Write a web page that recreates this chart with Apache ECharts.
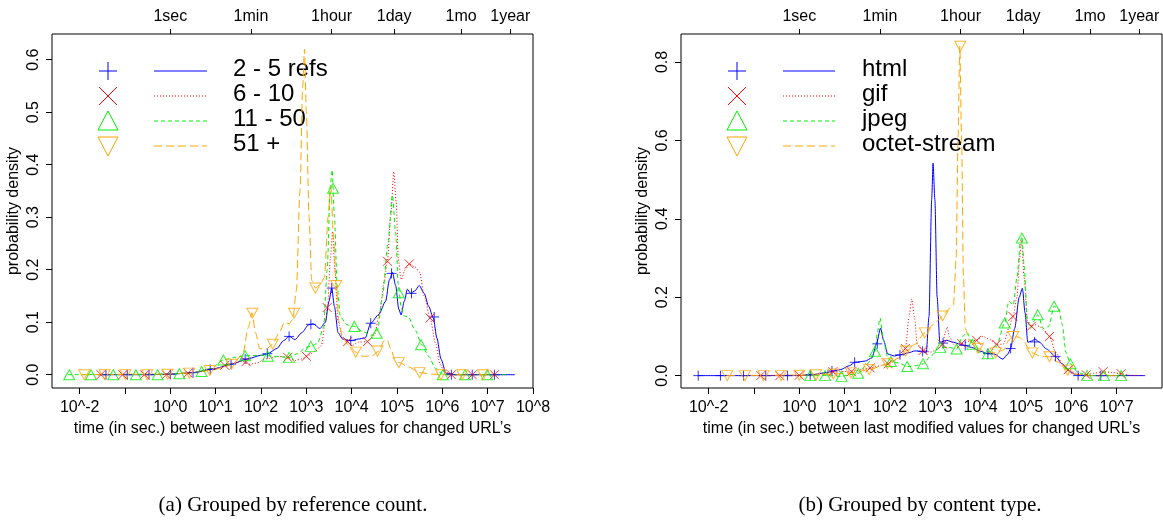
<!DOCTYPE html>
<html>
<head>
<meta charset="utf-8">
<script src="https://cdn.jsdelivr.net/npm/echarts@6/dist/echarts.min.js"></script>
<style>
  html, body { margin: 0; padding: 0; background: #fff; }
  #chart { width: 1163px; height: 520px; }
</style>
</head>
<body>
<div id="chart"></div>
<script>
// x values are log10(seconds), y values are probability density

// --- (a) grouped by reference count ---
const refs2to5Line = [[-1.6,0],[-0.5,0],[0,0.001],[0.5,0.004],[1.0,0.012],[1.34,0.02],[1.7,0.03],[2.0,0.037],[2.15,0.04],[2.35,0.05],[2.5,0.065],[2.62,0.073],[2.75,0.067],[2.9,0.08],[3.05,0.095],[3.15,0.097],[3.3,0.088],[3.42,0.1],[3.5,0.14],[3.56,0.165],[3.62,0.13],[3.7,0.08],[3.8,0.068],[3.98,0.065],[4.15,0.068],[4.3,0.07],[4.42,0.098],[4.6,0.115],[4.75,0.14],[4.83,0.18],[4.9,0.195],[4.97,0.17],[5.04,0.125],[5.09,0.114],[5.16,0.14],[5.23,0.163],[5.3,0.155],[5.4,0.16],[5.49,0.17],[5.6,0.155],[5.7,0.13],[5.8,0.108],[5.88,0.07],[5.97,0.03],[6.08,0.003],[6.3,0],[7.6,0]];
const refs2to5Marks = [[-1.42,0],[-0.95,0],[-0.47,0],[0.0,0.001],[0.5,0.004],[0.88,0.01],[1.34,0.02],[1.65,0.03],[2.14,0.04],[2.62,0.073],[3.1,0.096],[3.56,0.165],[3.98,0.065],[4.42,0.098],[4.88,0.193],[5.32,0.155],[5.82,0.11],[6.2,0],[6.66,0],[7.15,0]];

const refs6to10Line = [[-1.6,0],[0,0.001],[0.5,0.004],[1.0,0.012],[1.4,0.022],[1.6,0.025],[1.75,0.02],[1.9,0.022],[2.1,0.03],[2.4,0.035],[2.6,0.032],[2.75,0.027],[2.9,0.03],[3.05,0.037],[3.2,0.045],[3.33,0.055],[3.42,0.1],[3.47,0.129],[3.53,0.22],[3.58,0.273],[3.63,0.2],[3.7,0.1],[3.8,0.07],[3.91,0.063],[4.0,0.055],[4.15,0.062],[4.35,0.063],[4.5,0.075],[4.62,0.12],[4.72,0.18],[4.79,0.216],[4.86,0.3],[4.93,0.387],[4.98,0.33],[5.03,0.22],[5.09,0.181],[5.18,0.2],[5.27,0.211],[5.4,0.205],[5.5,0.195],[5.6,0.15],[5.73,0.108],[5.85,0.06],[5.95,0.02],[6.05,0.004],[6.3,0],[7.3,0]];
const refs6to10Marks = [[-1.53,0],[-1.05,0],[-0.57,0],[-0.09,0],[0.39,0.003],[1.2,0.018],[1.67,0.025],[2.59,0.033],[3.0,0.035],[3.46,0.128],[3.91,0.063],[4.35,0.063],[4.79,0.216],[5.27,0.211],[5.73,0.108],[6.2,0],[6.66,0],[7.15,0]];

const refs11to50Line = [[-2.26,0],[0,0.001],[0.5,0.004],[0.9,0.012],[1.17,0.028],[1.4,0.033],[1.65,0.036],[2.0,0.037],[2.3,0.035],[2.62,0.033],[2.8,0.04],[3.0,0.052],[3.1,0.054],[3.25,0.06],[3.38,0.09],[3.46,0.2],[3.53,0.36],[3.57,0.39],[3.62,0.3],[3.68,0.17],[3.75,0.11],[3.9,0.095],[4.06,0.092],[4.25,0.082],[4.45,0.075],[4.57,0.085],[4.68,0.15],[4.8,0.25],[4.9,0.342],[4.97,0.27],[5.03,0.17],[5.09,0.13],[5.15,0.112],[5.25,0.11],[5.4,0.085],[5.55,0.057],[5.7,0.035],[5.85,0.012],[6.0,0.001],[6.2,0],[7.4,0]];
const refs11to50Marks = [[-2.23,0],[-1.75,0],[-1.26,0],[-0.76,0],[-0.28,0],[0.2,0.002],[0.69,0.006],[1.17,0.028],[1.65,0.036],[2.15,0.035],[2.62,0.033],[3.1,0.054],[3.59,0.355],[4.06,0.092],[4.55,0.079],[5.04,0.156],[5.53,0.057],[6.01,0],[6.5,0],[6.99,0]];

const refs51Line = [[-1.95,0],[0,0.001],[0.5,0.004],[0.9,0.008],[1.2,0.015],[1.4,0.022],[1.6,0.04],[1.72,0.09],[1.8,0.118],[1.88,0.08],[1.97,0.05],[2.1,0.048],[2.26,0.058],[2.4,0.08],[2.52,0.1],[2.62,0.097],[2.7,0.105],[2.78,0.16],[2.86,0.35],[2.92,0.55],[2.96,0.62],[3.0,0.5],[3.06,0.3],[3.12,0.18],[3.2,0.165],[3.3,0.172],[3.4,0.185],[3.48,0.3],[3.54,0.36],[3.6,0.26],[3.66,0.17],[3.72,0.1],[3.8,0.07],[3.95,0.055],[4.09,0.043],[4.25,0.035],[4.45,0.036],[4.6,0.045],[4.72,0.065],[4.78,0.067],[4.86,0.05],[4.95,0.03],[5.05,0.023],[5.25,0.015],[5.5,0.004],[5.8,0.001],[6.1,0],[7.2,0]];
const refs51Marks = [[-1.9,0],[-1.45,0],[-0.99,0],[-0.51,0],[-0.06,0.001],[0.42,0.003],[0.87,0.008],[1.35,0.02],[1.81,0.117],[2.26,0.058],[2.73,0.117],[3.2,0.165],[3.66,0.17],[4.09,0.043],[4.57,0.045],[5.04,0.023],[5.5,0.004],[5.97,0],[6.44,0],[6.9,0]];

// --- (b) grouped by content type ---
const htmlLine = [[-2.23,0],[0,0],[0.3,0.002],[0.6,0.008],[0.9,0.015],[1.1,0.025],[1.23,0.034],[1.45,0.037],[1.6,0.045],[1.7,0.08],[1.79,0.121],[1.86,0.09],[1.95,0.055],[2.1,0.05],[2.22,0.053],[2.4,0.058],[2.55,0.063],[2.7,0.062],[2.8,0.058],[2.86,0.15],[2.92,0.45],[2.95,0.542],[2.99,0.45],[3.04,0.2],[3.1,0.085],[3.25,0.09],[3.4,0.085],[3.55,0.08],[3.65,0.077],[3.8,0.072],[4.0,0.062],[4.16,0.056],[4.3,0.055],[4.49,0.042],[4.6,0.055],[4.66,0.069],[4.75,0.12],[4.85,0.2],[4.92,0.223],[4.98,0.16],[5.04,0.085],[5.12,0.088],[5.2,0.093],[5.3,0.085],[5.45,0.068],[5.65,0.049],[5.8,0.03],[5.95,0.012],[6.1,0.002],[6.3,0],[7.63,0]];
const htmlMarks = [[-2.23,0],[-1.74,0],[-1.23,0],[-0.74,0],[-0.26,0],[0.24,0.002],[0.72,0.012],[1.22,0.034],[1.72,0.081],[2.22,0.053],[2.72,0.062],[3.17,0.083],[3.66,0.077],[4.16,0.056],[4.66,0.069],[5.19,0.086],[5.65,0.049],[6.15,0],[6.65,0]];

const gifLine = [[-0.9,0],[0,0.001],[0.5,0.005],[0.9,0.01],[1.2,0.012],[1.5,0.018],[1.8,0.025],[2.0,0.032],[2.2,0.045],[2.34,0.069],[2.42,0.15],[2.48,0.196],[2.54,0.15],[2.6,0.08],[2.73,0.064],[2.9,0.06],[3.05,0.068],[3.16,0.08],[3.22,0.11],[3.26,0.124],[3.31,0.1],[3.4,0.08],[3.58,0.082],[3.75,0.088],[3.91,0.09],[4.05,0.1],[4.2,0.092],[4.35,0.08],[4.5,0.08],[4.62,0.12],[4.71,0.151],[4.8,0.2],[4.86,0.3],[4.9,0.345],[4.96,0.25],[5.03,0.14],[5.12,0.126],[5.2,0.13],[5.3,0.125],[5.4,0.115],[5.52,0.1],[5.65,0.06],[5.8,0.03],[5.95,0.015],[6.1,0.006],[6.33,0.002],[6.5,0.006],[6.7,0.01],[6.9,0.008],[7.1,0.005],[7.3,0.001],[7.5,0]];
const gifMarks = [[-0.85,0],[-0.43,0],[0,0.001],[0.74,0.01],[1.15,0.01],[1.56,0.02],[1.96,0.03],[2.34,0.069],[2.73,0.064],[3.16,0.08],[3.58,0.082],[3.91,0.09],[4.35,0.08],[4.71,0.151],[5.12,0.126],[5.52,0.1],[5.93,0.015],[6.33,0.002],[6.7,0.01],[7.1,0.005]];

const jpegLine = [[0.2,0],[0.6,0],[0.93,-0.002],[1.1,0.002],[1.3,0.006],[1.5,0.03],[1.67,0.062],[1.72,0.11],[1.78,0.147],[1.86,0.09],[1.95,0.045],[2.05,0.036],[2.2,0.032],[2.39,0.023],[2.55,0.025],[2.73,0.03],[2.9,0.05],[3.11,0.072],[3.3,0.072],[3.47,0.068],[3.6,0.1],[3.7,0.11],[3.82,0.08],[3.95,0.06],[4.16,0.056],[4.35,0.075],[4.53,0.134],[4.62,0.19],[4.72,0.18],[4.8,0.25],[4.88,0.345],[4.91,0.355],[4.96,0.28],[5.03,0.14],[5.1,0.12],[5.18,0.14],[5.26,0.155],[5.38,0.12],[5.5,0.125],[5.62,0.177],[5.72,0.17],[5.8,0.13],[5.88,0.06],[5.98,0.03],[6.15,0.008],[6.35,0],[7.2,0]];
const jpegMarks = [[0.24,0],[0.57,0],[0.93,-0.002],[1.3,0.006],[1.67,0.062],[2.02,0.036],[2.38,0.023],[2.73,0.03],[3.11,0.072],[3.47,0.068],[3.82,0.08],[4.16,0.056],[4.53,0.134],[4.91,0.351],[5.26,0.155],[5.62,0.177],[5.98,0.03],[6.35,0],[6.72,0],[7.1,0]];

const octetLine = [[-1.6,0],[0,0.001],[0.4,0.002],[0.75,0.004],[1.14,0.007],[1.54,0.015],[1.94,0.03],[2.2,0.045],[2.35,0.063],[2.55,0.08],[2.77,0.109],[2.95,0.13],[3.05,0.14],[3.16,0.152],[3.3,0.17],[3.4,0.18],[3.46,0.3],[3.5,0.6],[3.54,0.84],[3.58,0.6],[3.62,0.25],[3.66,0.12],[3.75,0.09],[3.94,0.07],[4.1,0.06],[4.33,0.058],[4.5,0.065],[4.62,0.09],[4.72,0.1],[4.85,0.098],[4.95,0.09],[5.05,0.07],[5.14,0.058],[5.3,0.05],[5.52,0.048],[5.7,0.035],[5.92,0.014],[6.1,0.003],[6.3,0],[7.0,0]];
const octetMarks = [[-1.59,0],[-1.2,0],[-0.79,0],[-0.4,0],[0,0.001],[0.37,0.002],[0.75,0.004],[1.14,0.007],[1.54,0.015],[1.94,0.03],[2.35,0.063],[2.77,0.109],[3.16,0.152],[3.55,0.84],[3.94,0.07],[4.33,0.058],[4.72,0.1],[5.14,0.058],[5.52,0.048],[5.92,0.014]];

// tick labels
const bottomTicksA = [-2,-1,0,1,2,3,4,5,6,7,8];
const bottomLabelsA = [-2,0,1,2,3,4,5,6,7,8];
const bottomTicksB = [-2,-1,0,1,2,3,4,5,6,7];
const bottomLabelsB = [-2,0,1,2,3,4,5,6,7];
const topTickNames = ['1sec','1min','1hour','1day','1mo','1year'];
const topTickSeconds = [1,60,3600,86400,2592000,31536000];
const yTicksA = [0,0.1,0.2,0.3,0.4,0.5,0.6];
const yTicksB = [0,0.2,0.4,0.6,0.8];

const namesA = ['2 - 5 refs','6 - 10','11 - 50','51 +'];
const namesB = ['html','gif','jpeg','octet-stream'];
const xTitle = "time (in sec.) between last modified values for changed URL\u2019s";

const colors = ['#0000ff','#ff0000','#00ee00','#ffa500'];
const dashes = ['solid',[1,2],[4,3],[8,4]];
const markPaths = [
  'path://M5,0L5,10M0,5L10,5',
  'path://M0,0L10,10M10,0L0,10',
  'path://M5,0L10,9L0,9Z',
  'path://M0,0L10,0L5,9Z'
];
const markSizes = [[10,10],[9,9],[11,10],[11,10]];

const font = 'Liberation Sans';
const topTickValues = topTickSeconds.map(s => Math.log10(s));

const panels = [
  { left: 52, ymin: -0.0253, ymax: 0.649, yTicks: yTicksA, ticks: bottomTicksA, labels: bottomLabelsA,
    lines: [refs2to5Line, refs6to10Line, refs11to50Line, refs51Line],
    marks: [refs2to5Marks, refs6to10Marks, refs11to50Marks, refs51Marks], names: namesA,
    legX: 108, legLine: [154, 207], legText: 233 },
  { left: 681, ymin: -0.0316, ymax: 0.8714, yTicks: yTicksB, ticks: bottomTicksB, labels: bottomLabelsB,
    lines: [htmlLine, gifLine, jpegLine, octetLine],
    marks: [htmlMarks, gifMarks, jpegMarks, octetMarks], names: namesB,
    legX: 737, legLine: [783, 835], legText: 862 }
];
const legRows = [71, 96, 121, 146];

const grids = [], xAxes = [], yAxes = [], series = [], graphics = [];

panels.forEach((p, i) => {
  grids.push({ left: p.left, top: 34, width: 481, height: 354, show: true,
    borderColor: '#000', borderWidth: 1, backgroundColor: 'transparent' });

  xAxes.push({
    type: 'value', gridIndex: i, position: 'bottom', min: -2.61, max: 8.0,
    name: xTitle, nameLocation: 'middle', nameGap: 33,
    nameTextStyle: { fontFamily: font, fontSize: 16, color: '#000' },
    axisLine: { show: false, onZero: false }, splitLine: { show: false },
    axisTick: { show: true, length: 6, customValues: p.ticks, lineStyle: { color: '#000' } },
    axisLabel: { customValues: p.labels, margin: 12, fontFamily: font, fontSize: 16, color: '#000',
      formatter: v => '10^' + v }
  });
  xAxes.push({
    type: 'value', gridIndex: i, position: 'top', min: -2.61, max: 8.0,
    axisLine: { show: false, onZero: false }, splitLine: { show: false },
    axisTick: { show: true, length: 5, customValues: topTickValues, lineStyle: { color: '#000' } },
    axisLabel: { customValues: topTickValues, margin: 9, fontFamily: font, fontSize: 16, color: '#000',
      formatter: v => topTickNames[topTickValues.indexOf(v)] }
  });
  yAxes.push({
    type: 'value', gridIndex: i, min: p.ymin, max: p.ymax,
    name: 'probability density', nameLocation: 'middle', nameGap: 30,
    nameTextStyle: { fontFamily: font, fontSize: 16, color: '#000' },
    axisLine: { show: false, onZero: false }, splitLine: { show: false },
    axisTick: { show: true, length: 6, customValues: p.yTicks, lineStyle: { color: '#000' } },
    axisLabel: { customValues: p.yTicks, rotate: 90, margin: 10, fontFamily: font, fontSize: 16, color: '#000',
      formatter: v => v.toFixed(1) }
  });

  p.lines.forEach((d, k) => {
    series.push({
      type: 'line', xAxisIndex: 2 * i, yAxisIndex: i, data: d, showSymbol: false,
      smooth: 0.25, smoothMonotone: 'x', silent: true, z: 2 + k,
      lineStyle: { color: colors[k], width: 1, type: dashes[k] }
    });
    series.push({
      type: 'scatter', xAxisIndex: 2 * i, yAxisIndex: i, data: p.marks[k], silent: true, z: 6 + k,
      symbol: markPaths[k], symbolSize: markSizes[k],
      itemStyle: { color: 'transparent', borderColor: colors[k], borderWidth: 1 }
    });
  });

  // legend: marker, line sample, label
  legRows.forEach((y, k) => {
    const c = colors[k], x = p.legX, h = 9;
    if (k === 0) {
      graphics.push({ type: 'line', shape: { x1: x, y1: y - h, x2: x, y2: y + h }, style: { stroke: c, lineWidth: 1 } });
      graphics.push({ type: 'line', shape: { x1: x - h, y1: y, x2: x + h, y2: y }, style: { stroke: c, lineWidth: 1 } });
    } else if (k === 1) {
      graphics.push({ type: 'line', shape: { x1: x - h, y1: y - h, x2: x + h, y2: y + h }, style: { stroke: c, lineWidth: 1 } });
      graphics.push({ type: 'line', shape: { x1: x - h, y1: y + h, x2: x + h, y2: y - h }, style: { stroke: c, lineWidth: 1 } });
    } else if (k === 2) {
      graphics.push({ type: 'polygon', shape: { points: [[x, y - 10], [x + 10, y + 9], [x - 10, y + 9]] }, style: { fill: 'none', stroke: c, lineWidth: 1 } });
    } else {
      graphics.push({ type: 'polygon', shape: { points: [[x - 10, y - 9], [x + 10, y - 9], [x, y + 10]] }, style: { fill: 'none', stroke: c, lineWidth: 1 } });
    }
    graphics.push({ type: 'line', shape: { x1: p.legLine[0], y1: y, x2: p.legLine[1], y2: y },
      style: { stroke: c, lineWidth: 1, lineDash: dashes[k] === 'solid' ? null : dashes[k] } });
    graphics.push({ type: 'text', left: p.legText, top: y - 14,
      style: { text: p.names[k], fontFamily: font, fontSize: 24, fill: '#000' } });
  });
});

// captions under each panel
graphics.push({ type: 'text', x: 293, y: 505, style: { text: '(a) Grouped by reference count.', fontFamily: 'Liberation Serif', fontSize: 21, fill: '#000', textAlign: 'center', textVerticalAlign: 'middle' } });
graphics.push({ type: 'text', x: 920, y: 505, style: { text: '(b) Grouped by content type.', fontFamily: 'Liberation Serif', fontSize: 21, fill: '#000', textAlign: 'center', textVerticalAlign: 'middle' } });

const chart = echarts.init(document.getElementById('chart'), null, { renderer: 'canvas' });
chart.setOption({
  animation: false,
  backgroundColor: '#fff',
  grid: grids,
  xAxis: xAxes,
  yAxis: yAxes,
  series: series,
  graphic: graphics
});
</script>
</body>
</html>
